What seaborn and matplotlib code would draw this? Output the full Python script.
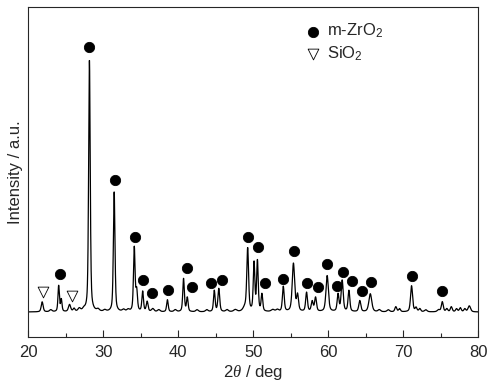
import numpy as np
import pandas as pd
import seaborn as sns
import matplotlib.pyplot as plt

# peak list: position (deg), height above baseline, FWHM (deg)
peak_pos = [21.85, 23.0, 24.05, 24.4, 25.5, 26.1, 26.8, 27.4, 28.15, 29.3, 30.2, 31.45, 32.7,
            33.3, 34.13, 34.45, 35.25, 35.85, 36.6, 37.4, 38.55, 39.6, 40.7, 41.2, 42.5, 43.8,
            44.8, 45.4, 46.5, 47.6, 48.9, 49.25, 50.1, 50.55, 51.15, 52.6, 53.2, 54.0, 55.35,
            55.9, 57.1, 57.85, 58.3, 59.85, 61.3, 61.85, 62.75, 64.2, 65.6, 66.8, 68.0, 69.0,
            69.5, 71.1, 71.7, 72.2, 73.0, 74.7, 75.2, 75.8, 76.4, 77.1, 77.6, 78.2, 78.8]
peak_height = [10, 2, 26, 12, 7, 3, 3, 2, 252, 2, 1.5, 120, 2,
               2, 64, 20, 20, 10, 3, 2, 12, 2, 33, 14, 2, 2,
               21, 23, 2, 2, 4, 62, 48, 50, 17, 2, 2, 25, 48,
               16, 19, 10, 14, 36, 17, 31, 21, 11, 18, 2, 2, 5,
               3, 26, 4, 3, 2, 2, 10, 3, 5, 3, 4, 3, 6]
peak_fwhm = [0.3, 0.4, 0.22, 0.22, 0.35, 0.3, 0.4, 0.4, 0.25, 0.4, 0.4, 0.25, 0.4,
             0.4, 0.25, 0.25, 0.25, 0.28, 0.4, 0.4, 0.25, 0.4, 0.25, 0.25, 0.4, 0.4,
             0.25, 0.28, 0.4, 0.5, 0.6, 0.28, 0.25, 0.25, 0.25, 0.5, 0.4, 0.28, 0.38,
             0.3, 0.28, 0.3, 0.3, 0.38, 0.28, 0.32, 0.28, 0.32, 0.45, 0.4, 0.4, 0.3,
             0.3, 0.32, 0.3, 0.3, 0.4, 0.4, 0.3, 0.3, 0.3, 0.3, 0.3, 0.3, 0.4]

# phase markers: position (deg), marker height
zro2_pos = [24.27, 28.13, 31.56, 34.22, 35.33, 36.44, 38.67, 41.1, 41.8, 44.3, 45.8, 49.24,
            50.6, 51.5, 54.0, 55.38, 57.1, 58.6, 59.8, 61.1, 62.0, 63.1, 64.5, 65.7, 71.2, 75.2]
zro2_h = [38, 265, 132, 75, 32, 19, 22, 44, 25, 29, 32, 75,
          65, 29, 33, 61, 29, 25, 48, 26, 40, 31, 21, 30, 36, 21]
sio2_pos = [21.9, 25.8]
sio2_h = [20, 16]

two_theta = np.arange(20, 80.001, 0.02)
intensity = np.zeros_like(two_theta)
for p, h, w in zip(peak_pos, peak_height, peak_fwhm):
    g = w / 2
    lor = g**2 / ((two_theta - p)**2 + g**2)
    gau = np.exp(-np.log(2) * ((two_theta - p) / g)**2)
    intensity += h * (0.5 * lor + 0.5 * gau)

df = pd.DataFrame({'2theta': two_theta, 'I': intensity})

sns.set_style('ticks')
plt.rcParams['font.family'] = ['Liberation Sans', 'DejaVu Sans']
plt.rcParams['mathtext.fontset'] = 'custom'
plt.rcParams['mathtext.rm'] = 'Liberation Sans'
plt.rcParams['mathtext.it'] = 'Liberation Serif:italic'

fig = plt.figure(figsize=(4.93, 3.91), dpi=100)
ax = fig.add_axes([0.0574, 0.138, 0.9128, 0.843])

sns.lineplot(ax=ax, data=df, x='2theta', y='I', color='black', lw=0.9, estimator=None)
sns.scatterplot(ax=ax, x=zro2_pos, y=zro2_h, marker='o', s=55, color='black',
                edgecolor='black', label='m-ZrO$_2$', zorder=3)
sns.scatterplot(ax=ax, x=sio2_pos, y=sio2_h, marker='v', s=60, facecolor='white',
                edgecolor='black', linewidth=0.6, label='SiO$_2$', zorder=3)

ax.set_xlim(20, 80)
ax.set_ylim(-25, 304)
ax.set_xticks(range(20, 81, 10))
ax.set_xticks(range(25, 80, 10), minor=True)
ax.set_yticks([])
ax.tick_params(axis='x', direction='in', length=5, width=0.8, labelsize=12, pad=6)
ax.tick_params(axis='x', which='minor', direction='in', length=3, width=0.8)
for s in ax.spines.values():
    s.set_linewidth(0.8)
ax.set_xlabel(r'2$\it{\theta}$ / deg', fontsize=12, labelpad=2)
ax.set_ylabel('Intensity / a.u.', fontsize=12, labelpad=4)
ax.legend(frameon=False, loc='upper left', bbox_to_anchor=(0.599, 0.976), fontsize=12,
          handlelength=1.0, handletextpad=0.34, labelspacing=0.25, borderaxespad=0)

plt.savefig('out.png', dpi=100)
